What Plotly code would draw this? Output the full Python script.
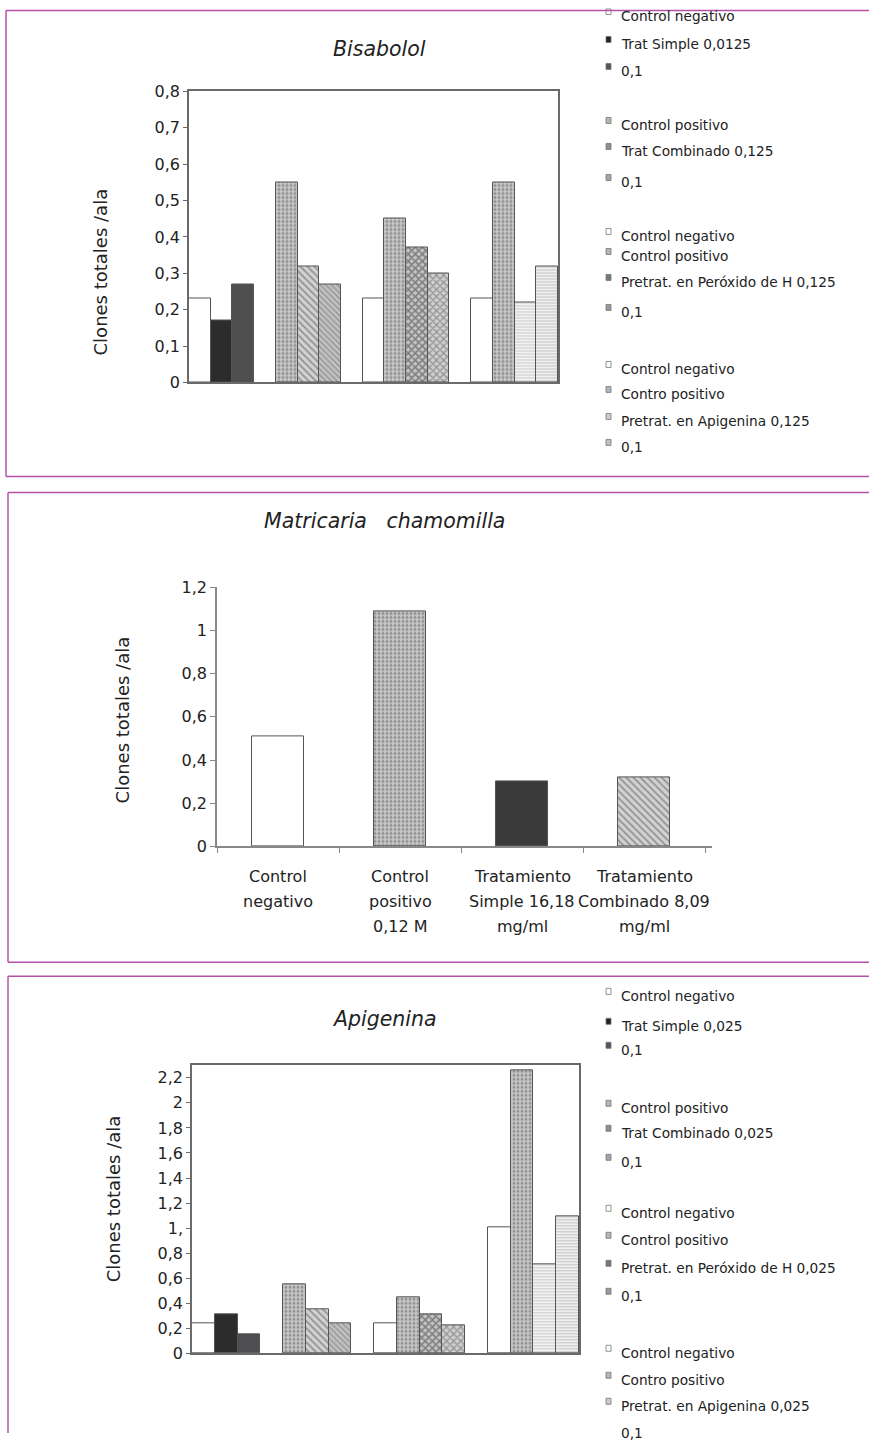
import plotly.graph_objects as go

W, H = 869, 1443

# ---------------- data ----------------
bis_g1 = [0.23, 0.17, 0.27]
bis_g2 = [0.55, 0.32, 0.27]
bis_g3 = [0.23, 0.45, 0.37, 0.30]
bis_g4 = [0.23, 0.55, 0.22, 0.32]
bis_styles = [["white", "black", "dark"],
              ["speckle", "hatch", "hatch2"],
              ["white", "speckle", "cross", "cross2"],
              ["white", "speckle", "horiz", "horiz2"]]
bis_legend = ["Control negativo", "Trat Simple 0,0125", "0,1",
              "Control positivo", "Trat Combinado 0,125", "0,1",
              "Control negativo", "Control positivo", "Pretrat. en Peróxido de H 0,125", "0,1",
              "Control negativo", "Contro positivo", "Pretrat. en Apigenina 0,125", "0,1"]
bis_ticks = [0, 0.1, 0.2, 0.3, 0.4, 0.5, 0.6, 0.7, 0.8]
bis_ticktext = ["0", "0,1", "0,2", "0,3", "0,4", "0,5", "0,6", "0,7", "0,8"]

mat_categories = ["Control negativo", "Control positivo 0,12 M",
                  "Tratamiento Simple 16,18 mg/ml", "Tratamiento Combinado 8,09 mg/ml"]
mat_label_lines = [["Control", "negativo"], ["Control", "positivo", "0,12 M"],
                   ["Tratamiento", "Simple 16,18", "mg/ml"], ["Tratamiento", "Combinado 8,09", "mg/ml"]]
mat_values = [0.51, 1.09, 0.30, 0.32]
mat_styles = ["white", "speckle", "black2", "hatch"]
mat_ticks = [0, 0.2, 0.4, 0.6, 0.8, 1.0, 1.2]
mat_ticktext = ["0", "0,2", "0,4", "0,6", "0,8", "1", "1,2"]

api_g1 = [0.24, 0.31, 0.15]
api_g2 = [0.55, 0.35, 0.24]
api_g3 = [0.24, 0.45, 0.31, 0.22]
api_g4 = [1.01, 2.26, 0.71, 1.09]
api_styles = bis_styles
api_legend = ["Control negativo", "Trat Simple 0,025", "0,1",
              "Control positivo", "Trat Combinado 0,025", "0,1",
              "Control negativo", "Control positivo", "Pretrat. en Peróxido de H 0,025", "0,1",
              "Control negativo", "Contro positivo", "Pretrat. en Apigenina 0,025", "0,1"]
api_ticks = [0, 0.2, 0.4, 0.6, 0.8, 1.0, 1.2, 1.4, 1.6, 1.8, 2.0, 2.2]
api_ticktext = ["0", "0,2", "0,4", "0,6", "0,8", "1,", "1,2", "1,4", "1,6", "1,8", "2", "2,2"]

# ---------------- styles ----------------
OUT = dict(color="#555555", width=1)
STY = {
    "white": dict(color="#ffffff"),
    "black": dict(color="#2c2c2d"),
    "black2": dict(color="#3a3a3a"),
    "dark": dict(color="#4e4e50"),
    "speckle": dict(color="#c6c6c6", pattern=dict(shape=".", fgcolor="#5a5a5a", bgcolor="#c9c9c9", size=4, solidity=0.45)),
    "hatch": dict(color="#cfcfcf", pattern=dict(shape="\\", fgcolor="#555555", bgcolor="#d2d2d2", size=5, solidity=0.35)),
    "hatch2": dict(color="#bdbdbd", pattern=dict(shape="\\", fgcolor="#666666", bgcolor="#c2c2c2", size=4, solidity=0.35)),
    "cross": dict(color="#bdbdbd", pattern=dict(shape="x", fgcolor="#3a3a3a", bgcolor="#c4c4c4", size=5, solidity=0.55)),
    "cross2": dict(color="#c8c8c8", pattern=dict(shape="x", fgcolor="#555555", bgcolor="#cfcfcf", size=5, solidity=0.45)),
    "horiz": dict(color="#efefef", pattern=dict(shape="-", fgcolor="#9a9a9a", bgcolor="#f2f2f2", size=3, solidity=0.3)),
    "horiz2": dict(color="#ececec", pattern=dict(shape="-", fgcolor="#8e8e8e", bgcolor="#efefef", size=3, solidity=0.3)),
}
ICON = {"white": "#ffffff", "black": "#222222", "dark": "#555555", "speckle": "#b5b5b5",
        "hatch": "#8e8e8e", "hatch2": "#a5a5a5", "cross": "#777777", "cross2": "#999999",
        "horiz": "#cccccc", "horiz2": "#c0c0c0"}

FONT = "DejaVu Sans"
PINK = "#b452a8"
AX = "#6a6a6a"

# page-capture compensation (measured vertically: rendered = 9.5 + 0.987*y)
SY, OY = 0.987, 9.5


def px(x):
    return min(1.0, x / W)


def py(y):
    return max(0.0, min(1.0, 1 - ((y - OY) / SY) / H))


fig = go.Figure()


def add_groups(groups, styles, xa, ya):
    start = 0
    for g, st in zip(groups, styles):
        for i, (v, s) in enumerate(zip(g, st)):
            fig.add_trace(go.Bar(x=[start + i + 0.5], y=[v], width=[1], xaxis=xa, yaxis=ya,
                                 marker=dict(**STY[s], line=OUT), showlegend=False, hoverinfo="y"))
        start += len(g) + 1


add_groups([bis_g1, bis_g2, bis_g3, bis_g4], bis_styles, "x", "y")
for c, v, s in zip(mat_categories, mat_values, mat_styles):
    fig.add_trace(go.Bar(x=[c], y=[v], width=[0.42], xaxis="x2", yaxis="y2",
                         marker=dict(**STY[s], line=OUT), showlegend=False))
add_groups([api_g1, api_g2, api_g3, api_g4], api_styles, "x3", "y3")

tickfont = dict(family=FONT, size=16, color="#222222")
box_x = dict(range=[0, 17], showticklabels=False, ticks="", showline=True, mirror=True,
             linecolor=AX, linewidth=1.5, showgrid=False, zeroline=False, fixedrange=True)

fig.update_layout(
    width=W, height=H, margin=dict(l=0, r=0, t=0, b=0), autosize=False,
    paper_bgcolor="white", plot_bgcolor="white", bargap=0,
    font=dict(family=FONT, color="#222222"),
    xaxis=dict(domain=[px(189), px(558)], anchor="y", **box_x),
    yaxis=dict(domain=[py(383), py(92)], anchor="x", range=[0, 0.8], tickvals=bis_ticks,
               ticktext=bis_ticktext, ticks="outside", ticklen=4, tickcolor=AX, showline=True,
               mirror=True, linecolor=AX, linewidth=1.5, showgrid=False, zeroline=False,
               tickfont=tickfont),
    xaxis2=dict(domain=[px(217), px(712)], anchor="y2", type="category", ticks="outside",
                tickson="boundaries", ticklen=5, tickcolor="#888888", showline=True,
                linecolor="#888888", linewidth=1.5, showgrid=False, showticklabels=False),
    yaxis2=dict(domain=[py(847), py(588)], anchor="x2", range=[0, 1.2], tickvals=mat_ticks,
                ticktext=mat_ticktext, ticks="outside", ticklen=5, tickcolor="#888888",
                showline=True, linecolor="#888888", linewidth=1.5, showgrid=False,
                zeroline=False, tickfont=tickfont),
    xaxis3=dict(domain=[px(192), px(579)], anchor="y3", **box_x),
    yaxis3=dict(domain=[py(1354), py(1066)], anchor="x3", range=[0, 2.3], tickvals=api_ticks,
                ticktext=api_ticktext, ticks="outside", ticklen=4, tickcolor=AX, showline=True,
                mirror=True, linecolor=AX, linewidth=1.5, showgrid=False, zeroline=False,
                tickfont=tickfont),
)

ann = []
for txt, x, y in [("Bisabolol", 379, 50), ("Matricaria\u00a0\u00a0 chamomilla", 384, 522),
                  ("Apigenina", 384, 1020)]:
    ann.append(dict(text="<i>" + txt + "</i>", x=px(x), y=py(y), xref="paper", yref="paper",
                    showarrow=False, xanchor="center", yanchor="middle",
                    font=dict(family=FONT, size=20.5, color="#222222")))
for x, y in [(100, 273), (122, 721), (113, 1200)]:
    ann.append(dict(text="Clones totales /ala", x=px(x), y=py(y), xref="paper", yref="paper",
                    showarrow=False, textangle=-90, xanchor="center", yanchor="middle",
                    font=dict(family=FONT, size=18, color="#222222")))
# category labels of the middle chart (one annotation per text line)
for cat, lines in zip(mat_categories, mat_label_lines):
    for k, t in enumerate(lines):
        ann.append(dict(text=t, x=cat, xref="x2", y=py(877 + 25 * k), yref="paper",
                        showarrow=False, xanchor="center", yanchor="middle",
                        font=dict(family=FONT, size=16, color="#222222")))

shapes = []
leg1_y = [17, 45, 72, 126, 152, 183, 237, 257, 283, 313, 370, 395, 422, 448]
leg3_y = [997, 1027, 1051, 1109, 1134, 1163, 1214, 1241, 1269, 1297, 1354, 1381, 1407, 1435]
flat_styles = [s for g in bis_styles for s in g]
for labels, ys, last_icon in [(bis_legend, leg1_y, True), (api_legend, leg3_y, False)]:
    for i, (lab, yc) in enumerate(zip(labels, ys)):
        ann.append(dict(text=lab, x=px(619), y=py(yc), xref="paper", yref="paper",
                        showarrow=False, xanchor="left", yanchor="middle",
                        font=dict(family=FONT, size=13.7, color="#222222")))
        if i < len(flat_styles) and (last_icon or i < len(labels) - 1):
            s = flat_styles[i]
            shapes.append(dict(type="rect", xref="paper", yref="paper",
                               x0=px(606), x1=px(611), y0=py(yc - 2), y1=py(yc - 8),
                               fillcolor=ICON[s], line=dict(color="#777777", width=0.8)))


def line(x0, y0, x1, y1, color=PINK, width=1.5):
    shapes.append(dict(type="line", xref="paper", yref="paper", x0=px(x0), y0=py(y0),
                       x1=px(x1), y1=py(y1), line=dict(color=color, width=width)))


line(6, 11, 869, 11); line(6, 11, 6, 477); line(6, 477, 869, 477)
line(8, 493, 869, 493); line(8, 493, 8, 963); line(8, 963, 869, 963)
line(8, 977, 869, 977); line(8, 977, 8, 1443)

fig.update_layout(annotations=ann, shapes=shapes)
fig.write_html(
    "out.html",
    config={"responsive": False, "displayModeBar": False},
    post_script=("document.documentElement.style.margin='0';"
                 "document.documentElement.style.padding='0';"
                 "document.documentElement.style.overflow='hidden';"
                 "document.body.style.margin='0';document.body.style.padding='0';"
                 "document.body.style.overflow='hidden';"),
)
